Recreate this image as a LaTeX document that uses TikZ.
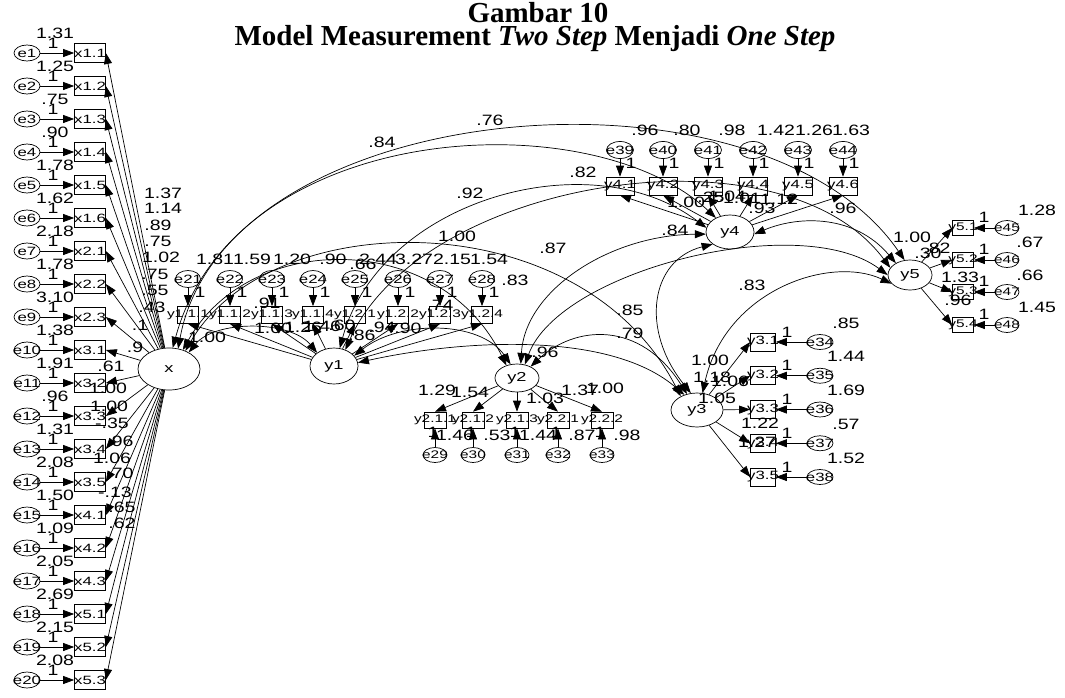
\documentclass[tikz,border=0pt]{standalone}
\usepackage{fontspec}
\setmainfont{Liberation Serif}
\newfontfamily\labfont[FakeStretch=1.3]{Liberation Sans}
\newfontfamily\nodefont[FakeStretch=1.4]{Liberation Sans}
\usetikzlibrary{arrows.meta,shapes.geometric}
\tikzset{
  lw/.style={line width=0.7pt},
  arr/.style={lw,-{Triangle[length=11pt,width=8pt]}},
  cov/.style={lw,{Triangle[length=11pt,width=8pt]}-{Triangle[length=11pt,width=8pt]}},
  errE/.style={draw,lw,ellipse,inner sep=0pt,minimum width=26pt,minimum height=16pt},
  obsB/.style={draw,lw,rectangle,inner sep=0pt,minimum width=31pt,minimum height=19pt},
  latE/.style={draw,lw,ellipse,inner sep=0pt},
  elab/.style={font=\nodefont\fontsize{12}{12}\selectfont,inner sep=0pt},
  olab/.style={font=\nodefont\fontsize{12}{12}\selectfont,inner sep=0pt},
  slab/.style={font=\nodefont\fontsize{11}{11}\selectfont,inner sep=0pt},
  llab/.style={font=\nodefont\fontsize{13}{13}\selectfont,inner sep=0pt},
  num/.style={font=\labfont\fontsize{15}{15}\selectfont,inner sep=0pt},
  ttl/.style={font=\bfseries\fontsize{29}{29}\selectfont,inner sep=0pt}
}
\begin{document}
\begin{tikzpicture}[x=1pt,y=-1pt]
\useasboundingbox (0,0) rectangle (1065,697);
% title
\node[ttl] (t1) at (538,13) {Gambar 10};
\node[ttl] (t2) at (535,39) {Model Measurement \textit{Two Step} Menjadi \textit{One Step}};
% latent variables
\node[latE,minimum width=62pt,minimum height=42pt,label={[llab]center:x}] (X) at (169,369) {};
\node[latE,minimum width=48pt,minimum height=36pt,label={[llab]center:y1}] (Y1) at (334,366) {};
\node[latE,minimum width=44pt,minimum height=28pt,label={[llab]center:y2}] (Y2) at (517,378) {};
\node[latE,minimum width=52pt,minimum height=34pt,label={[llab]center:y3}] (Y3) at (697,410) {};
\node[latE,minimum width=48pt,minimum height=34pt,label={[llab]center:y4}] (Y4) at (730,232) {};
\node[latE,minimum width=44pt,minimum height=30pt,label={[llab]center:y5}] (Y5) at (910,275) {};
% left column
\foreach \i/\nm/\v in {1/x1.1/1.31,2/x1.2/1.25,3/x1.3/.75,4/x1.4/.90,5/x1.5/1.78,6/x1.6/1.62,7/x2.1/2.18,8/x2.2/1.78,9/x2.3/3.10,10/x3.1/1.38,11/x3.2/1.91,12/x3.3/.96,13/x3.4/1.31,14/x3.5/2.08,15/x4.1/1.50,16/x4.2/1.09,17/x4.3/2.05,18/x5.1/2.69,19/x5.2/2.15,20/x5.3/2.08}{
  \pgfmathsetmacro\yy{53+(\i-1)*33}
  \node[errE,label={[elab]center:e\i}] (e\i) at (27,\yy) {};
  \node[obsB,label={[olab]center:\nm}] (b\i) at (90,\yy) {};
  \draw[arr] (e\i) -- (b\i);
  \draw[arr] (X) -- (b\i.east);
  \node[num] at (55,{\yy-20}) {\v};
  \node[num] at (53,{\yy-10}) {1};
}
\foreach \lbl/\px/\py in {1.37/163/193,1.14/163/208,.89/158/225,.75/158/241,1.02/161/257,.75/155/274,.55/155/290,.43/152/307,.1/140/325,.9/135/347,.61/111/366,1.00/108/388,1.00/109/406,-.35/112/423,.96/120/441,1.06/112/458,.70/120/473,-.13/115/492,.65/122/507,.62/122/523}
  \node[num] at (\px,\py) {\lbl};
% y1 block
\foreach \i/\xx/\nm/\v/\vx in {21/188/y1.1.1/1.81/215,22/230/y1.1.2/1.59/252,23/272/y1.1.3/1.20/292,24/313/y1.1.4/.90/333,25/355/y1.2.1/2.44/378,26/398/y1.2.2/3.27/414,27/440/y1.2.3/2.15/452,28/482/y1.2.4/1.54/489}{
  \node[errE,minimum width=25pt,minimum height=17pt,label={[elab]center:e\i}] (e\i) at (\xx,279) {};
  \node[obsB,minimum width=21pt,minimum height=17pt,label={[slab]center:\nm}] (b\i) at (\xx,315) {};
  \draw[arr] (e\i) -- (b\i);
  \draw[arr] (Y1) -- (b\i.south);
  \node[num] at (\vx,259) {\v};
  \node[num] at ({\xx+12},292) {1};
}
% y2 block
\foreach \i/\xx/\nm/\v/\vx in {29/435/y2.1.1/1.46/455,30/473/y2.1.2/.53/497,31/517/y2.1.3/1.44/538,32/558/y2.2.1/.87/582,33/602/y2.2.2/.98/627}{
  \node[errE,minimum width=24pt,minimum height=15pt,label={[slab]center:e\i}] (e\i) at (\xx,455) {};
  \node[obsB,minimum width=22pt,minimum height=16pt,label={[slab]center:\nm}] (b\i) at (\xx,420) {};
  \draw[arr] (e\i) -- (b\i);
  \draw[arr] (Y2) -- (b\i.north);
  \node[num] at ({\xx-2},432) {1};
  \node[num] at (\vx,435) {\v};
}
% y3 block
\foreach \i/\k/\nm/\v in {34/0/y3.1/.85,35/1/y3.2/1.44,36/2/y3.3/1.69,37/3/y3.4/.57,38/4/y3.5/1.52}{
  \pgfmathsetmacro\yy{342+\k*33.75}
  \node[errE,minimum width=26pt,minimum height=15pt,label={[elab]center:e\i}] (e\i) at (820,\yy) {};
  \node[obsB,minimum width=25pt,minimum height=18pt,label={[olab]center:\nm}] (b\i) at (763,\yy) {};
  \draw[arr] (e\i) -- (b\i);
  \draw[arr] (Y3) -- (b\i.west);
  \node[num] at (787,{\yy-10}) {1};
  \node[num] at (846,{\yy-19}) {\v};
}
% y4 block
\foreach \i/\xx/\nm/\v/\vx in {39/620/y4.1/.96/645,40/663/y4.2/.80/687,41/708/y4.3/.98/732,42/753/y4.4/1.42/776,43/798/y4.5/1.26/814,44/843/y4.6/1.63/851}{
  \node[errE,minimum width=27pt,minimum height=17pt,label={[elab]center:e\i}] (e\i) at (\xx,150) {};
  \node[obsB,minimum width=28pt,minimum height=18pt,label={[olab]center:\nm}] (b\i) at (\xx,186) {};
  \draw[arr] (e\i) -- (b\i);
  \draw[arr] (Y4) -- (b\i.south);
  \node[num] at (\vx,130) {\v};
  \node[num] at ({\xx+11},163) {1};
}
% y5 block
\foreach \i/\yy/\nm/\v/\vx/\vy in {45/228/y5.1/1.28/1037/210,46/260/y5.2/.67/1030/242,47/292/y5.3/.66/1030/275,48/325/y5.4/1.45/1037/307}{
  \node[errE,minimum width=24pt,minimum height=15pt,label={[slab]center:e\i}] (e\i) at (1007,\yy) {};
  \node[obsB,minimum width=21pt,minimum height=15pt,label={[slab]center:\nm}] (b\i) at (963,\yy) {};
  \draw[arr] (e\i) -- (b\i);
  \draw[arr] (Y5) -- (b\i.west);
  \node[num] at (984,{\yy-11}) {1};
  \node[num] at (\vx,\vy) {\v};
}
% covariances
\draw[cov] (X.66) .. controls (225,95) and (760,50) .. (Y5.110);
\draw[cov] (X.80) .. controls (235,120) and (590,100) .. (Y4.135);
\draw[cov] (Y1.72) .. controls (380,200) and (590,140) .. (Y4.170);
\draw[cov] (Y1.55) .. controls (420,180) and (780,120) .. (Y5.160);
\draw[cov] (X.40) .. controls (215,320) and (290,320) .. (Y1.142);
\draw[cov] (X.54) .. controls (250,230) and (440,230) .. (Y2.130);
\draw[cov] (X.48) .. controls (270,205) and (580,200) .. (Y3.140);
\draw[cov] (Y1.27) .. controls (400,320) and (480,320) .. (Y2.115);
\draw[cov] (Y1.8) .. controls (460,340) and (610,330) .. (Y3.130);
\draw[cov] (Y2.40) .. controls (575,325) and (640,320) .. (Y3.122);
\draw[cov] (Y2.75) .. controls (525,290) and (610,235) .. (Y4.185);
\draw[cov] (Y3.110) .. controls (640,330) and (650,260) .. (Y4.215);
\draw[cov] (Y3.72) .. controls (725,290) and (830,255) .. (Y5.205);
\draw[cov] (Y4.355) .. controls (800,215) and (855,215) .. (Y5.140);
\draw[cov] (Y2.60) .. controls (560,270) and (800,210) .. (Y5.180);
% other labels
\foreach \lbl/\px/\py in {.76/490/120,.84/382/142,.92/470/193,.82/583/172,1.00/457/236,.87/553/248,.84/675/230,.83/515/280,.85/630/310,.79/630/333,.96/545/352,.83/752/285,.96/843/208,
  1.00/207/337,.91/267/303,1.00/273/328,1.26/303/327,1.46/322/326,.60/342/325,.86/362/335,.94/382/327,.90/408/328,.74/440/305,.66/363/264,
  1.29/437/390,1.54/470/392,1.03/545/398,1.37/580/390,1.00/605/388,
  1.00/710/360,1.18/712/377,1.06/730/381,1.05/717/398,1.22/760/423,1.27/757/442,
  1.00/686/202,.25/711/197,1.04/727/196,1.01/742/198,1.12/779/199,.93/762/208,
  1.00/912/237,.82/937/248,.30/928/253,1.33/960/277,.96/958/300}
  \node[num] at (\px,\py) {\lbl};
\end{tikzpicture}
\end{document}
